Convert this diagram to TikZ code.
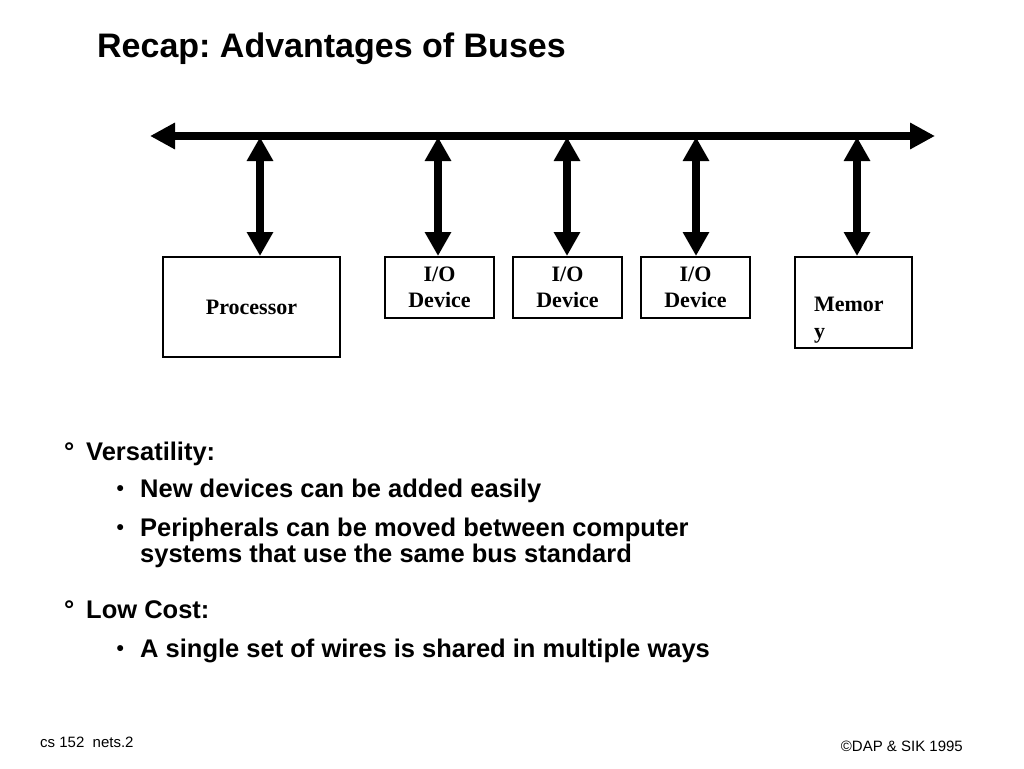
\documentclass[tikz,border=0pt]{standalone}
\usepackage{fontspec}
\setmainfont{Liberation Serif}
\setsansfont{Liberation Sans}
\usetikzlibrary{arrows.meta,positioning}
\frenchspacing
\begin{document}
\begin{tikzpicture}[x=1pt,y=-1pt,
  bus/.style={line width=7.5pt,{Triangle[length=25pt,width=25pt]}-{Triangle[length=25pt,width=25pt]}},
  link/.style={line width=8pt,{Triangle[length=24pt,width=25pt]}-{Triangle[length=24pt,width=25pt]}},
  unit/.style={draw=black,line width=2pt,inner sep=0pt,align=center,font={\rmfamily\bfseries\fontsize{22}{26}\selectfont}},
  item/.style={anchor=base west,inner sep=0pt,font={\sffamily\bfseries\fontsize{25.5}{26}\selectfont}},
  dot/.style={anchor=base west,inner sep=0pt,font={\sffamily\bfseries\fontsize{21}{22}\selectfont}},
  foot/.style={anchor=base west,inner sep=0pt,font={\sffamily\fontsize{15}{17}\selectfont}}]
\useasboundingbox (0,0) rectangle (1024,768);
\node[item,font={\sffamily\bfseries\fontsize{34}{36}\selectfont}] (title) at (97,57) {Recap: Advantages of Buses};
% the bus and its units
\coordinate (west) at (150,136);
\coordinate (east) at (935,136);
\draw[bus] (west) -- (east);
\node[unit,minimum width=177pt,minimum height=100pt] (cpu) at (251.5,307) {Processor};
\node[unit,minimum width=109pt,minimum height=61pt] (io1) at (439.5,287.5) {I/O\\Device};
\node[unit,minimum width=109pt,minimum height=61pt] (io2) at (567.5,287.5) {I/O\\Device};
\node[unit,minimum width=109pt,minimum height=61pt] (io3) at (695.5,287.5) {I/O\\Device};
\node[unit,minimum width=117pt,minimum height=91pt] (mem) at (853.5,302.5) {};
\node[unit,draw=none,align=left,anchor=north west,font={\rmfamily\bfseries\fontsize{22}{27}\selectfont}] (memtext) at (813,296.5) {Memor\\y};
\foreach \x/\b in {260/cpu,438/io1,567/io2,696/io3,857/mem}{
  \coordinate (tap\b) at (\x,137);
  \draw[link] (tap\b) -- (tap\b |- \b.north);
}
% the points
\node[item] (pt1) at (64,460) {°};
\node[item] (head1) at (86,460) {Versatility:};
\node[dot] (dot1) at (116.5,495) {•};
\node[item] (line1) at (140,497) {New devices can be added easily};
\node[dot] (dot2) at (116.5,534) {•};
\node[item,anchor=north west,align=left] (line2) at (140,517.5) {Peripherals can be moved between computer\\systems that use the same bus standard};
\node[item] (pt2) at (64,618) {°};
\node[item] (head2) at (86,618) {Low Cost:};
\node[dot] (dot3) at (116.5,655) {•};
\node[item] (line3) at (140,657) {A single set of wires is shared in multiple ways};
% footer
\node[foot] (course) at (40,747) {cs 152~~nets.2};
\node[foot,anchor=base east] (copy) at (963,751) {©DAP \& SIK 1995};
\end{tikzpicture}
\end{document}
